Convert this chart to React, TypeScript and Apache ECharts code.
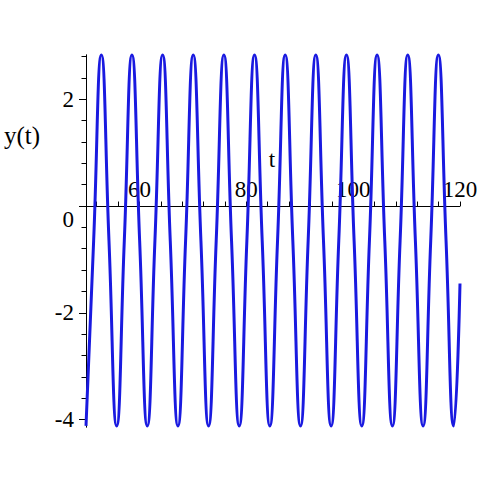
import React, { useEffect, useRef } from 'react';
import * as echarts from 'echarts';

// Curve samples: troughs, mid-line crossings, peaks
const curveT = [
  50.0, 51.43, 52.87, 54.3, 55.74, 57.17, 58.6, 60.04, 61.47, 62.9,
  64.34, 65.77, 67.21, 68.64, 70.07, 71.51, 72.94, 74.37, 75.81, 77.24,
  78.68, 80.11, 81.54, 82.98, 84.41, 85.85, 87.28, 88.71, 90.15, 91.58,
  93.01, 94.45, 95.88, 97.31, 98.75, 100.18, 101.62, 103.05, 104.48, 105.92,
  107.35, 108.79, 110.22, 111.65, 113.09, 114.52, 115.95, 117.39, 118.82, 120.0,
];
const curveY = [
  -4.12, -0.65, 2.83, -0.65, -4.12, -0.65, 2.83, -0.65, -4.12, -0.65,
  2.83, -0.65, -4.12, -0.65, 2.83, -0.65, -4.12, -0.65, 2.83, -0.65,
  -4.12, -0.65, 2.83, -0.65, -4.12, -0.65, 2.83, -0.65, -4.12, -0.65,
  2.83, -0.65, -4.12, -0.65, 2.83, -0.65, -4.12, -0.65, 2.83, -0.65,
  -4.12, -0.65, 2.83, -0.65, -4.12, -0.65, 2.83, -0.65, -4.12, -1.45,
];

const xTicks = [52, 56, 60, 64, 68, 72, 76, 80, 84, 88, 92, 96, 100, 104, 108, 112, 116, 120];
const xLabels = [60, 80, 100, 120];
const yMinorTicks = [-4, -3.6, -3.2, -2.8, -2.4, -2, -1.6, -1.2, -0.8, -0.4, 0, 0.4, 0.8, 1.2, 1.6, 2, 2.4, 2.8];
const yMajorTicks = [-4, -2, 0, 2];

const X_MIN = 50;
const X_MAX = 120;
const Y_MIN = -4.14;
const Y_MAX = 2.83;

const GRID_TOP = 55;
const GRID_BOTTOM = 56;
const CHART_H = 483;

const FONT = '"Liberation Serif", "Times New Roman", serif';
const LINE_COLOR = '#1a1ae0';

export default function App() {
  const ref = useRef<HTMLDivElement>(null);

  useEffect(() => {
    if (!ref.current) return;
    const chart = echarts.init(ref.current, undefined, { renderer: 'svg' });
    const data = curveT.map((t, i) => [t, curveY[i]]);
    const axisLineStyle = { color: '#000', width: 1 };
    const gridH = CHART_H - GRID_TOP - GRID_BOTTOM;
    // place the horizontal axis on y = 0 (axis drawn from the top edge, moved down)
    const zeroOffset = -(gridH * Y_MAX) / (Y_MAX - Y_MIN);

    chart.setOption({
      animation: false,
      grid: { left: 86, right: 23, top: GRID_TOP, bottom: GRID_BOTTOM, containLabel: false },
      xAxis: {
        type: 'value',
        min: X_MIN,
        max: X_MAX,
        position: 'top',
        offset: zeroOffset,
        axisLine: { show: true, onZero: false, lineStyle: axisLineStyle },
        axisTick: { show: true, inside: false, length: 4.5, customValues: xTicks, lineStyle: axisLineStyle },
        axisLabel: {
          show: true,
          inside: false,
          customValues: xLabels,
          color: '#000',
          fontFamily: FONT,
          fontSize: 23,
          margin: 5,
        },
        splitLine: { show: false },
      },
      yAxis: [
        {
          type: 'value',
          min: Y_MIN,
          max: Y_MAX,
          position: 'left',
          axisLine: { show: true, onZero: false, lineStyle: axisLineStyle },
          axisTick: { show: true, length: 4.5, customValues: yMinorTicks, lineStyle: axisLineStyle },
          axisLabel: {
            show: true,
            customValues: yMajorTicks,
            color: '#000',
            fontFamily: FONT,
            fontSize: 23,
            margin: 12,
            formatter: (v: number) => (v === 0 ? '{z|0}' : String(v)),
            rich: {
              z: { fontFamily: FONT, fontSize: 23, color: '#000', padding: [26, 0, 0, 0] },
            },
          },
          splitLine: { show: false },
        },
        {
          type: 'value',
          min: Y_MIN,
          max: Y_MAX,
          position: 'left',
          offset: 0,
          axisLine: { show: true, onZero: false, lineStyle: axisLineStyle },
          axisTick: { show: true, length: 7, customValues: yMajorTicks, lineStyle: axisLineStyle },
          axisLabel: { show: false },
          splitLine: { show: false },
        },
      ],
      graphic: [
        {
          type: 'text',
          style: { x: 272, y: 159, text: 't', font: `23px ${FONT}`, fill: '#000', textAlign: 'center', textVerticalAlign: 'middle' },
        },
        {
          type: 'text',
          style: { x: 22, y: 135, text: 'y(t)', font: `25px ${FONT}`, fill: '#000', textAlign: 'center', textVerticalAlign: 'middle' },
        },
      ],
      series: [
        {
          type: 'line',
          xAxisIndex: 0,
          yAxisIndex: 0,
          data,
          smooth: 0.5,
          showSymbol: false,
          clip: false,
          lineStyle: { color: LINE_COLOR, width: 3 },
        },
      ],
    });

    return () => chart.dispose();
  }, []);

  return (
    <div
      ref={ref}
      style={{ position: 'absolute', left: 0, top: 0, width: 483, height: 483, background: '#fff' }}
    />
  );
}
